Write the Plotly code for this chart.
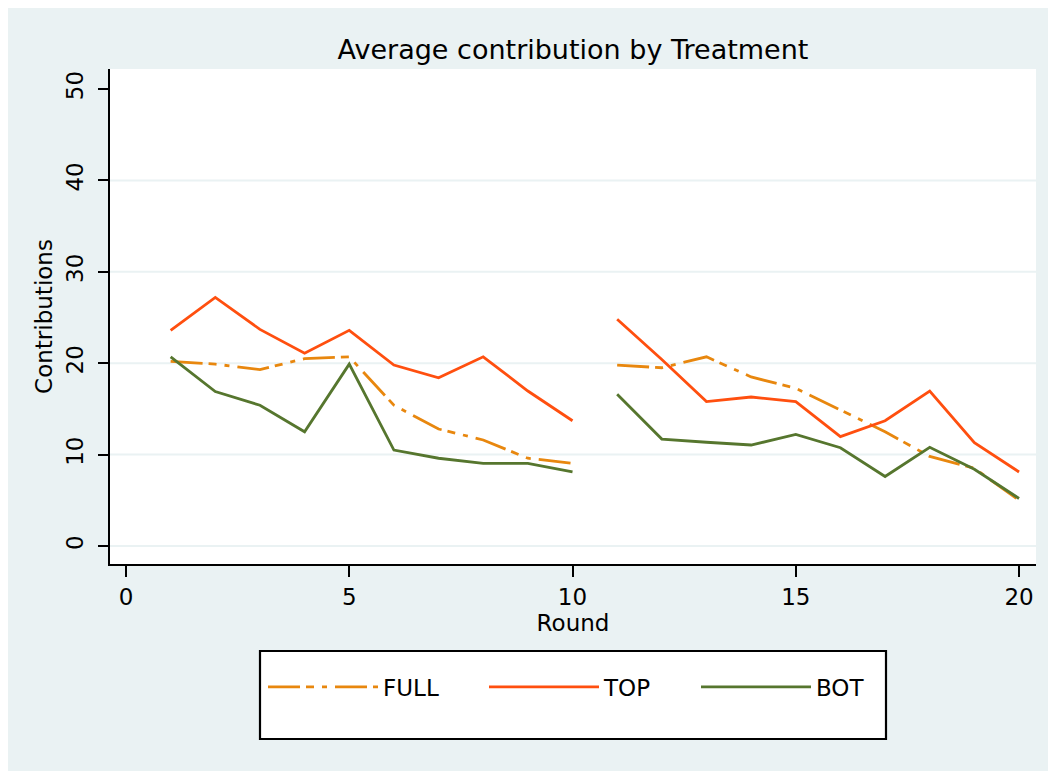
import plotly.graph_objects as go

# ---- data ----
ROUNDS = list(range(1, 21))
FULL = [20.2, 19.9, 19.3, 20.5, 20.7, 15.4, 12.8, 11.6, 9.6, 9.05,
        19.8, 19.5, 20.7, 18.5, 17.25, 14.9, 12.5, 9.8, 8.5, 5.0]
TOP = [23.6, 27.2, 23.7, 21.1, 23.6, 19.8, 18.4, 20.7, 16.96, 13.7,
       24.8, 20.4, 15.8, 16.3, 15.8, 11.96, 13.7, 16.96, 11.3, 8.1]
BOT = [20.7, 16.9, 15.4, 12.5, 19.9, 10.5, 9.6, 9.05, 9.05, 8.1,
       16.6, 11.7, 11.35, 11.05, 12.2, 10.75, 7.6, 10.8, 8.4, 5.2]
PHASE_BREAK = 10  # line is broken between round 10 and 11

X_TICKS = [0, 5, 10, 15, 20]
Y_TICKS = [0, 10, 20, 30, 40, 50]
GRID_Y = [0, 10, 20, 30, 40]

SERIES = [
    ("FULL", FULL, "#E8870E", "32px,6px,8px,8px,5px,8px", 96),
    ("TOP", TOP, "#FF4F0F", "solid", 87),
    ("BOT", BOT, "#56762E", "solid", None),
]

BG = "#EAF2F3"
FONT = "DejaVu Sans"

# page geometry (pixels); the html body adds an 8px offset
OFF = 8
W, H = 1056, 771
PLOT_L, PLOT_R, PLOT_T, PLOT_B = 110, 1036, 69, 564  # page coords
L = PLOT_L - OFF
T = PLOT_T - OFF
R = W - (PLOT_R - OFF)
B = H - (PLOT_B - OFF)
PW, PH = PLOT_R - PLOT_L, PLOT_B - PLOT_T


def px_x(px):
    return (px - PLOT_L) / PW


def px_y(py):
    return (PLOT_B - py) / PH


def with_break(xs, ys, brk):
    ox, oy = [], []
    for x, y in zip(xs, ys):
        if ox and x == brk + 1:
            ox.append(None)
            oy.append(None)
        ox.append(x)
        oy.append(y)
    return ox, oy


fig = go.Figure()
for name, vals, color, dash, lw in SERIES:
    xs, ys = with_break(ROUNDS, vals, PHASE_BREAK)
    kw = {}
    if lw is not None:
        kw["legendwidth"] = lw
    fig.add_trace(go.Scatter(
        x=xs, y=ys, mode="lines", name=name,
        line=dict(color=color, width=2.8, dash=dash),
        connectgaps=False, **kw))

shapes = [
    # plot region
    dict(type="rect", xref="paper", yref="paper",
         x0=0, x1=1, y0=0, y1=1,
         fillcolor="white", line=dict(width=0), layer="below"),
    # legend box
    dict(type="rect", xref="paper", yref="paper",
         x0=px_x(260), x1=px_x(886), y0=px_y(739), y1=px_y(651),
         fillcolor="white", line=dict(color="black", width=2.2), layer="below"),
]
for g in GRID_Y:
    shapes.append(dict(type="line", xref="paper", yref="y", x0=0, x1=1,
                       y0=g, y1=g, line=dict(color=BG, width=2), layer="below"))

fig.update_layout(
    width=W, height=H,
    margin=dict(l=L, r=R, t=T, b=B),
    paper_bgcolor=BG,
    plot_bgcolor="rgba(0,0,0,0)",
    font=dict(family=FONT, color="black", size=23),
    title=dict(text="Average contribution by Treatment",
               x=(573 - OFF) / W, xanchor="center", xref="container",
               y=1 - (50 - OFF) / H, yanchor="middle", yref="container",
               font=dict(size=27, family=FONT, color="black")),
    shapes=shapes,
    showlegend=True,
    legend=dict(orientation="h", x=px_x(566.5), xanchor="center",
                y=px_y(687), yanchor="middle",
                bgcolor="rgba(0,0,0,0)", borderwidth=0,
                itemwidth=110, font=dict(size=23, family=FONT),
                itemclick=False, itemdoubleclick=False),
    xaxis=dict(range=[-0.358, 20.38], tickvals=X_TICKS,
               showgrid=False, zeroline=False,
               showline=True, linecolor="black", linewidth=2,
               ticks="outside", ticklen=11, tickwidth=2, tickcolor="black",
               ticklabelstandoff=0,
               title=dict(text="Round", standoff=0, font=dict(size=23))),
    yaxis=dict(range=[-1.97, 52.19], tickvals=Y_TICKS,
               showgrid=False, zeroline=False,
               showline=True, linecolor="black", linewidth=2,
               ticks="outside", ticklen=10, tickwidth=2, tickcolor="black",
               tickangle=-90, ticklabelstandoff=6,
               title=dict(text="Contributions", standoff=3, font=dict(size=23))),
)

fig.write_html("out.html")
